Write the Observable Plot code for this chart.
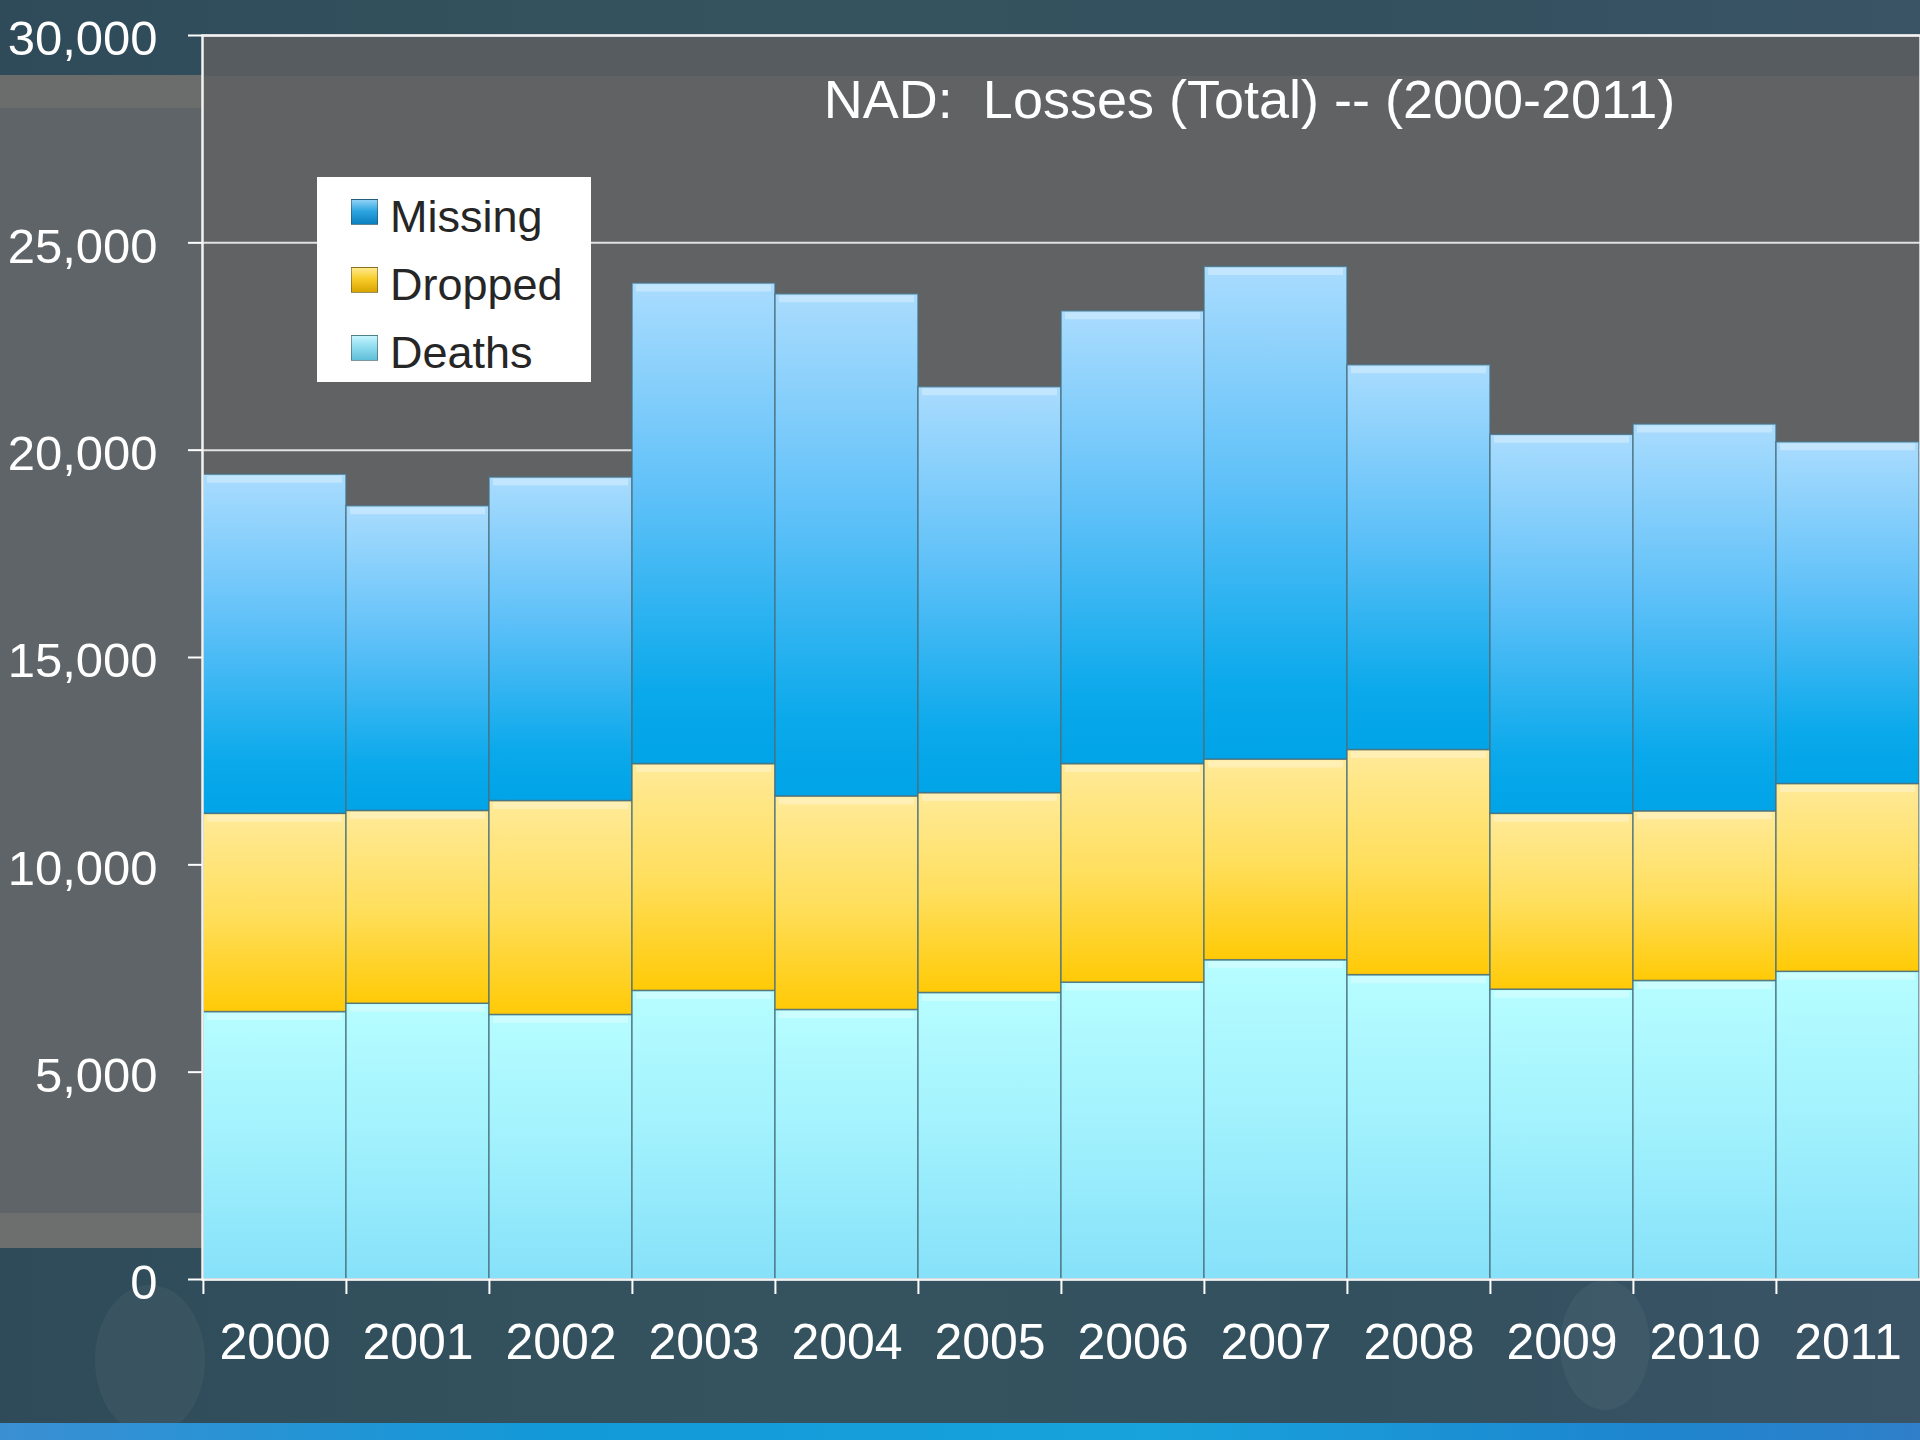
<!DOCTYPE html>
<html>
<head>
<meta charset="utf-8">
<script src="https://cdn.jsdelivr.net/npm/d3@7"></script>
<script src="https://cdn.jsdelivr.net/npm/@observablehq/plot@0.6"></script>
<style>
  html, body { margin: 0; padding: 0; background: #34515f; overflow: hidden; }
  #stage { position: relative; width: 1920px; height: 1440px; overflow: hidden;
    font-family: "Liberation Sans", Arial, sans-serif;
    background: linear-gradient(90deg, #2f4b5a 0%, #35535f 40%, #33505e 70%, #3a5466 100%); }
  .layer { position: absolute; left: 0; width: 1920px; }
  #grayband { top: 75px; height: 1173px; background: #5e6467; }
  #lightTop { top: 75px; height: 33px; background: #6b6c6c; }
  #lightBot { top: 1213px; height: 35px; background: #6d6e6e; }
  #blueStrip { top: 1423px; height: 17px; background: linear-gradient(90deg, #3a8fd2 0%, #1199d8 30%, #18a3dc 60%, #1d86cf 85%, #2f7fc9 100%); }
  .blob { position: absolute; border-radius: 50%; background: rgba(120,140,150,0.12); }
  #chart { position: absolute; left: 0; top: 0; }
  #chart svg text { white-space: pre; }
  #legend { position: absolute; left: 317px; top: 177px; width: 274px; height: 205px; background: #ffffff; }
  .lrow { position: absolute; left: 0; height: 40px; }
  .sw { position: absolute; left: 34px; width: 27px; height: 26px; box-sizing: border-box; border: 1px solid rgba(60,60,60,0.5); }
  .lt { position: absolute; left: 73px; font-size: 45px; color: #262626; line-height: 40px; white-space: nowrap; }
</style>
</head>
<body>
<div id="stage">
  <div class="layer" id="grayband"></div>
  <div class="layer" id="lightTop"></div>
  <div class="layer" id="lightBot"></div>
  <div class="blob" style="left:95px;top:1285px;width:110px;height:150px;"></div>
  <div class="blob" style="left:1560px;top:1280px;width:90px;height:130px;"></div>
  <div class="layer" id="blueStrip"></div>
  <div id="chart"></div>
  <div id="legend"></div>
</div>
<script>
// ---- data ----
const years = ["2000","2001","2002","2003","2004","2005","2006","2007","2008","2009","2010","2011"];
const deaths  = [6450, 6650, 6380, 6960, 6500, 6910, 7160, 7700, 7340, 6990, 7200, 7420];
const dropped = [4780, 4650, 5160, 5470, 5150, 4820, 5270, 4840, 5430, 4240, 4090, 4530];
const missing = [8180, 7350, 7800, 11590, 12110, 9790, 10920, 11880, 9280, 9140, 9330, 8240];
const seriesNames = ["Deaths", "Dropped", "Missing"];
const legendOrder = ["Missing", "Dropped", "Deaths"];
const yTicks = [0, 5000, 10000, 15000, 20000, 25000, 30000];
const title = "NAD:  Losses (Total) -- (2000-2011)";

// ---- styles ----
const gradStops = {
  Missing: [[0, "#aadcfe"], [0.45, "#5dc0f8"], [0.85, "#0aa9eb"], [1, "#00a4e7"]],
  Dropped: [[0, "#ffea98"], [0.5, "#ffdf5e"], [1, "#ffca06"]],
  Deaths:  [[0, "#b6fdff"], [0.5, "#a1f1fd"], [1, "#86e1f9"]]
};
const swatchCss = {
  Missing: "linear-gradient(180deg,#8fd2f5 0%,#2ea6e0 45%,#0b7fc0 100%)",
  Dropped: "linear-gradient(180deg,#ffe98a 0%,#f7cd2a 45%,#d9a400 100%)",
  Deaths:  "linear-gradient(180deg,#c6f5ff 0%,#90dcef 45%,#5fbfd8 100%)"
};

const W = 1920, H = 1440, mL = 202, mR = 0, mT = 35, mB = 161;
const bw = (W - mL - mR) / years.length;

const table = years.flatMap((yr, i) => [
  {year: yr, series: "Deaths", value: deaths[i]},
  {year: yr, series: "Dropped", value: dropped[i]},
  {year: yr, series: "Missing", value: missing[i]}
]);

const svg = Plot.plot({
  width: W, height: H,
  marginLeft: mL, marginRight: mR, marginTop: mT, marginBottom: mB,
  style: {background: "transparent", fontFamily: "Liberation Sans, Arial, sans-serif", color: "white", overflow: "visible"},
  x: {type: "band", domain: years, padding: 0, label: null},
  y: {domain: [0, 30000], label: null},
  color: {type: "ordinal", domain: seriesNames, range: seriesNames.map(s => `url(#g${s})`)},
  marks: [
    Plot.frame({fill: "url(#gFrame)"}),
    Plot.gridY(yTicks, {stroke: "#e2e2e2", strokeOpacity: 1, strokeWidth: 2}),
    Plot.barY(table, {x: "year", y: "value", fill: "series", stroke: "#4a6f80", strokeOpacity: 0.8, strokeWidth: 1.5}),
    Plot.tickY(table, Plot.stackY2({x: "year", y: "value", z: "series", stroke: "white", strokeOpacity: 0.3, strokeWidth: 7, dy: 4.5, insetLeft: 4, insetRight: 4})),
    Plot.frame({stroke: "#f2f2f2", strokeWidth: 2.5}),
    Plot.axisY(yTicks, {label: null, tickSize: 14, tickFormat: () => "", strokeWidth: 2}),
    Plot.axisY(yTicks, {label: null, tickSize: 0, tickPadding: 45, fontSize: 49, dy: 4, tickFormat: d => d.toLocaleString("en-US")}),
    Plot.axisX({label: null, tickSize: 0, tickPadding: 44, fontSize: 50}),
    Plot.ruleX(years, {x: d => d, dx: -bw / 2, y1: 0, y2: 0, insetBottom: -15, stroke: "white", strokeWidth: 2}),
    Plot.text([title], {frameAnchor: "top", dx: 188, dy: 65, lineAnchor: "middle", fontSize: 54, fill: "white"})
  ]
});

// gradient defs
const defs = d3.select(svg).insert("defs", ":first-child");
function addGrad(id, stops) {
  const g = defs.append("linearGradient").attr("id", id)
    .attr("x1", 0).attr("y1", 0).attr("x2", 0).attr("y2", 1);
  stops.forEach(([o, c]) => g.append("stop").attr("offset", o).attr("stop-color", c));
}
seriesNames.forEach(s => addGrad("g" + s, gradStops[s]));
addGrad("gFrame", [[0, "#575c60"], [0.032, "#575c60"], [0.033, "#616264"], [1, "#616264"]]);

document.getElementById("chart").appendChild(svg);

// legend
const legend = document.getElementById("legend");
legendOrder.forEach((s, i) => {
  const row = document.createElement("div");
  row.className = "lrow";
  row.style.top = (15 + i * 68) + "px";
  row.style.width = "274px";
  const sw = document.createElement("div");
  sw.className = "sw";
  sw.style.top = "7px";
  sw.style.background = swatchCss[s];
  const t = document.createElement("div");
  t.className = "lt";
  t.style.top = "5px";
  t.textContent = s;
  row.appendChild(sw);
  row.appendChild(t);
  legend.appendChild(row);
});
</script>
</body>
</html>
